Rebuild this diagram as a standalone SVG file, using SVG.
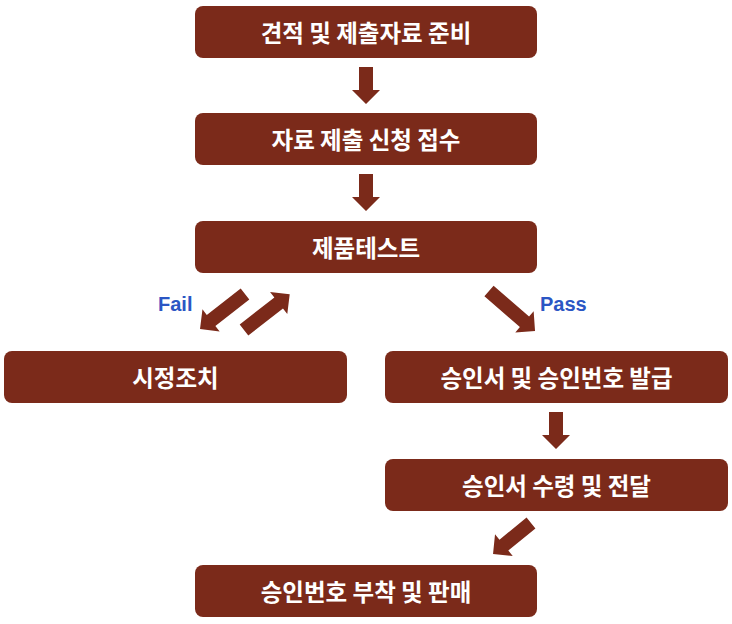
<svg xmlns="http://www.w3.org/2000/svg" width="732" height="624" viewBox="0 0 732 624">
  <defs>
    <style>
      .box { fill: #7B2A1A; }
      .lbl { fill: #FFFFFF; font-family: "Noto Sans CJK KR", "Noto Sans", sans-serif; font-weight: 700; font-size: 23.5px; text-anchor: middle; dominant-baseline: central; }
      .arrow { fill: #7B2A1A; }
      .edge { fill: #2B56C4; font-family: "Liberation Sans", Arial, sans-serif; font-weight: 700; font-size: 20px; }
    </style>
  </defs>
  <rect width="732" height="624" fill="#FFFFFF"/>

  <g id="n1"><rect class="box" x="195" y="6" width="342" height="52" rx="8"/><text class="lbl" x="366" y="32">견적 및 제출자료 준비</text></g>
  <g id="n2"><rect class="box" x="195" y="113" width="342" height="52" rx="8"/><text class="lbl" x="366" y="139">자료 제출 신청 접수</text></g>
  <g id="n3"><rect class="box" x="195" y="221" width="342" height="52" rx="8"/><text class="lbl" x="366" y="247">제품테스트</text></g>
  <g id="n4"><rect class="box" x="4" y="351" width="343" height="52" rx="8"/><text class="lbl" x="175.5" y="377">시정조치</text></g>
  <g id="n5"><rect class="box" x="385" y="351" width="343" height="52" rx="8"/><text class="lbl" x="556.5" y="377">승인서 및 승인번호 발급</text></g>
  <g id="n6"><rect class="box" x="385" y="459" width="343" height="52" rx="8"/><text class="lbl" x="556.5" y="485">승인서 수령 및 전달</text></g>
  <g id="n7"><rect class="box" x="195" y="565" width="342" height="52" rx="8"/><text class="lbl" x="366" y="591">승인번호 부착 및 판매</text></g>

  <g id="connectors">
    <polygon class="arrow" transform="translate(366,67)" points="-7,0 7,0 7,23 14,23 0,37 -14,23 -7,23"/>
    <polygon class="arrow" transform="translate(366,174)" points="-7,0 7,0 7,23 14,23 0,37 -14,23 -7,23"/>
    <polygon class="arrow" transform="translate(556,412)" points="-7,0 7,0 7,23 14,23 0,37 -14,23 -7,23"/>
    <polygon class="arrow" transform="translate(245,294) rotate(52.1)" points="-7,0 7,0 7,43 14,43 0,57 -14,43 -7,43"/>
    <polygon class="arrow" transform="translate(244,330) rotate(-128)" points="-7,0 7,0 7,44 14,44 0,58 -14,44 -7,44"/>
    <polygon class="arrow" transform="translate(489,291) rotate(-49)" points="-7,0 7,0 7,47 14,47 0,61 -14,47 -7,47"/>
    <polygon class="arrow" transform="translate(531,523) rotate(50.8)" points="-7,0 7,0 7,35 14,35 0,49 -14,35 -7,35"/>
    <text class="edge" x="158" y="311">Fail</text>
    <text class="edge" x="540" y="311">Pass</text>
  </g>
</svg>
